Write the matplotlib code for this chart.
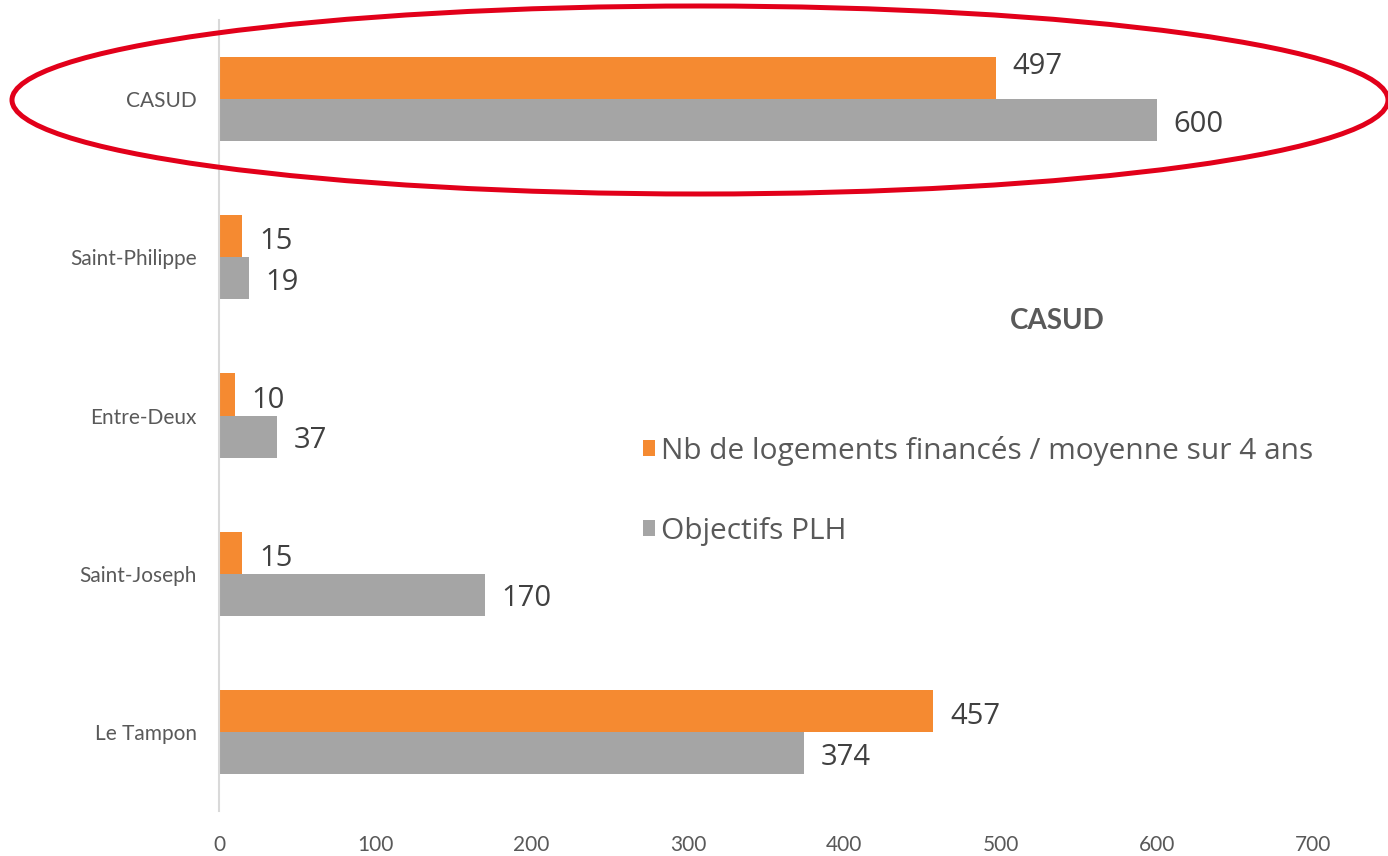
import numpy as np
import matplotlib.pyplot as plt
from matplotlib import font_manager
from matplotlib.patches import Ellipse

names = {f.name for f in font_manager.fontManager.ttflist}
narrow = 'Liberation Sans Narrow' if 'Liberation Sans Narrow' in names else 'Lato'

# data (top to bottom as in the chart)
communes = ['CASUD', 'Saint-Philippe', 'Entre-Deux', 'Saint-Joseph', 'Le Tampon']
finances = [497, 15, 10, 15, 457]
objectifs = [600, 19, 37, 170, 374]
xticks = [0, 100, 200, 300, 400, 500, 600, 700]

c_orange = '#F58A31'
c_gray = '#A5A5A5'
c_txt = '#595959'
c_lbl = '#404040'

W, H = 1388, 856
fig = plt.figure(figsize=(W / 100, H / 100), dpi=100)
ax = fig.add_axes([219 / W, 45 / H, 1169 / W, 791 / H])

y = np.arange(len(communes))
bh = 0.266
b1 = ax.barh(y - bh / 2, finances, height=bh, color=c_orange,
             label='Nb de logements financés / moyenne sur 4 ans')
b2 = ax.barh(y + bh / 2, objectifs, height=bh, color=c_gray, label='Objectifs PLH')

ax.set_xlim(0, 1169 / 1.5633)
ax.set_ylim(len(communes) - 0.5, -0.5)
ax.set_xticks(xticks)
ax.set_yticks(y)
ax.set_yticklabels(communes, fontfamily='Lato', fontsize=15, color=c_txt)
ax.set_xticklabels([str(t) for t in xticks], fontfamily=narrow, fontsize=15, color=c_txt)
ax.tick_params(axis='both', length=0)
ax.tick_params(axis='x', pad=17)
ax.tick_params(axis='y', pad=16)
for s in ['top', 'right', 'bottom']:
    ax.spines[s].set_visible(False)
ax.spines['left'].set_color('#D9D9D9')
ax.spines['left'].set_linewidth(1.5)

# data labels
for i, (a, b) in enumerate(zip(finances, objectifs)):
    up = 8 if i == 0 else -4
    ax.annotate(str(a), (a, i - bh / 2), xytext=(12, up), textcoords='offset points',
                va='center', ha='left', fontfamily='Open Sans', fontsize=21, color=c_lbl)
    ax.annotate(str(b), (b, i + bh / 2), xytext=(12, -3), textcoords='offset points',
                va='center', ha='left', fontfamily='Open Sans', fontsize=21, color=c_lbl)

fig.text(1057 / W, 1 - 321 / H, 'CASUD', fontfamily=narrow, fontweight='bold',
         fontsize=20, color=c_txt, ha='center', va='center')

leg = fig.legend(handles=[b1, b2], loc='upper left',
                 bbox_to_anchor=(616 / W, 1 - 409 / H), frameon=False,
                 prop={'family': 'Open Sans', 'size': 21.5}, labelcolor=c_txt,
                 handlelength=0.42, handleheight=0.42, handletextpad=0.2,
                 labelspacing=1.7)

# red ellipse around CASUD
fig.patches.append(Ellipse((700 / W, 1 - 100 / H), 1376 / W, 188 / H,
                           transform=fig.transFigure, fill=False,
                           edgecolor='#E2001A', linewidth=3.6))

fig.savefig('out.png', dpi=100)
